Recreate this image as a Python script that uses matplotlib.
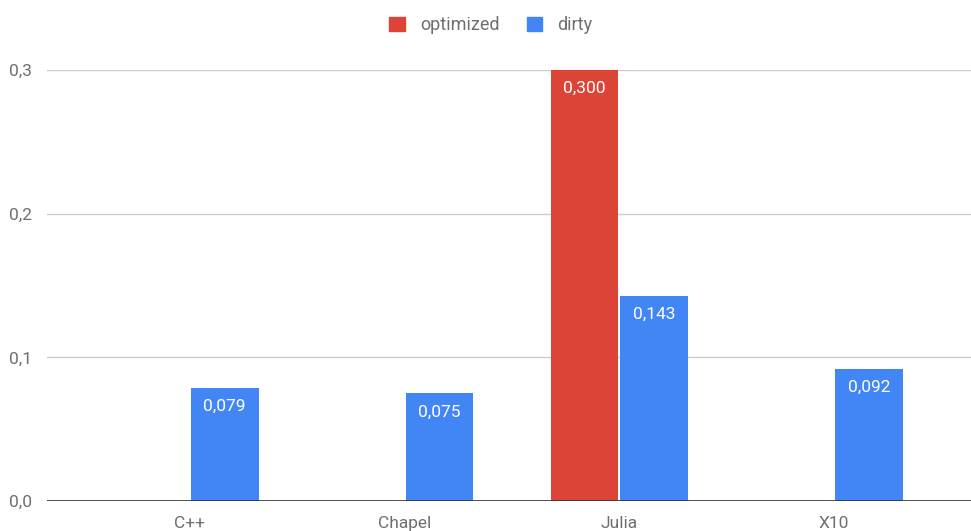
import numpy as np
import matplotlib.pyplot as plt
from matplotlib.patches import FancyBboxPatch
from matplotlib.ticker import FuncFormatter

languages = ['C++', 'Chapel', 'Julia', 'X10']
optimized = [0.0, 0.0, 0.300, 0.0]
dirty = [0.079, 0.075, 0.143, 0.092]
y_ticks = [0.0, 0.1, 0.2, 0.3]

RED = '#db4437'
BLUE = '#4285f4'
TEXT = '#6f6f6f'

plt.rcParams['font.family'] = ['Roboto', 'DejaVu Sans']

fig = plt.figure(figsize=(9.71, 5.31), dpi=100)
ax = fig.add_axes([47 / 971, 30 / 531, 1 - 47 / 971, (501 - 70) / 531])

x = np.arange(len(languages))
width = 0.315
gap = 0.005
bars_opt = ax.bar(x - width / 2 - gap, optimized, width, color=RED, label='optimized', zorder=3)
bars_dirty = ax.bar(x + width / 2 + gap, dirty, width, color=BLUE, label='dirty', zorder=3)

def comma(v):
    return f'{v:.3f}'.replace('.', ',')

for bars, vals in ((bars_opt, optimized), (bars_dirty, dirty)):
    for b, v in zip(bars, vals):
        if v <= 0:
            continue
        ax.annotate(comma(v), (b.get_x() + b.get_width() / 2, v),
                    xytext=(0, -8), textcoords='offset points',
                    ha='center', va='top', color='white', fontsize=12.5, zorder=4)

ax.set_xlim(-0.665, 3.637)
ax.set_ylim(0, 0.3)
ax.set_yticks(y_ticks)
ax.yaxis.set_major_formatter(FuncFormatter(lambda v, p: f'{v:.1f}'.replace('.', ',')))
ax.set_xticks(x)
ax.set_xticklabels(languages)
ax.tick_params(axis='y', length=0, pad=11, labelsize=12.5, labelcolor=TEXT)
ax.tick_params(axis='x', length=0, pad=11, labelsize=12.5, labelcolor=TEXT)
ax.grid(axis='y', color='#cccccc', linewidth=1, zorder=0)
for s in ax.spines.values():
    s.set_visible(False)
ax.axhline(0, color='#333333', linewidth=1.2, zorder=5)

handles = [FancyBboxPatch((0, 0), 1, 1, boxstyle='round,pad=0.1', color=RED),
           FancyBboxPatch((0, 0), 1, 1, boxstyle='round,pad=0.1', color=BLUE)]
fig.legend(handles, ['optimized', 'dirty'], loc='center', bbox_to_anchor=(491 / 971, 1 - 25 / 531),
           ncol=2, frameon=False, fontsize=13, labelcolor=TEXT,
           handlelength=0.85, handleheight=0.85, handletextpad=0.85, columnspacing=1.5)

fig.savefig('out.png', dpi=100)
